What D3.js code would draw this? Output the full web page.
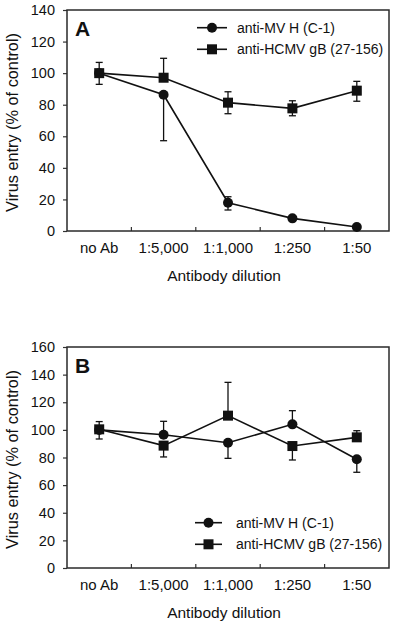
<!DOCTYPE html>
<html>
<head>
<meta charset="utf-8">
<script src="https://cdn.jsdelivr.net/npm/d3@7"></script>
<style>
  html, body { margin: 0; padding: 0; background: #fff; }
  svg { display: block; font-family: "Liberation Sans", Arial, Helvetica, sans-serif; }
</style>
</head>
<body>
<svg id="chart" width="400" height="624"></svg>
<script>
// ---------- data ----------
const categories = ["no Ab", "1:5,000", "1:1,000", "1:250", "1:50"];
const seriesNames = ["anti-MV H (C-1)", "anti-HCMV gB (27-156)"];

// Panel A
const yTicksA = [0, 20, 40, 60, 80, 100, 120, 140];
const aMvH      = [100, 86.3, 17.9, 8.0, 2.5];
const aMvHLo    = [null, 57.2, 13.3, null, null];
const aMvHHi    = [null, null, 21.7, null, null];
const aHcmv     = [100, 97.1, 81.3, 77.7, 88.9];
const aHcmvLo   = [92.9, null, 74.3, 73.0, 82.2];
const aHcmvHi   = [106.8, 109.4, 88.2, 82.5, 94.8];

// Panel B
const yTicksB = [0, 20, 40, 60, 80, 100, 120, 140, 160];
const bMvH      = [100, 96.5, 90.7, 104.0, 78.7];
const bMvHLo    = [null, null, 79.4, null, 69.3];
const bMvHHi    = [null, 106.2, null, 113.9, null];
const bHcmv     = [100.4, 88.6, 110.3, 88.3, 94.6];
const bHcmvLo   = [93.4, 80.4, null, 78.2, null];
const bHcmvHi   = [106.0, null, 134.4, null, 99.4];

const xTitle = "Antibody dilution";
const yTitle = "Virus entry (% of control)";

// ---------- drawing ----------
const svg = d3.select("#chart");
const ink = "#111";

function panel(cfg) {
  const left = 67, right = 389;
  const g = svg.append("g");
  const x = d3.scaleBand().domain(categories).range([left, right]).padding(0);
  const y = d3.scaleLinear().domain([0, d3.max(cfg.yTicks)]).range([cfg.bottom, cfg.top]);

  // y axis
  const ya = g.append("g").attr("transform", `translate(${left},0)`)
    .call(d3.axisLeft(y).tickValues(cfg.yTicks).tickSize(4).tickPadding(8).tickFormat(d3.format("d")));
  ya.select(".domain").remove();
  ya.selectAll("line").attr("stroke", "#333").attr("stroke-width", 1.2);
  ya.selectAll("text").attr("font-size", 14.5).attr("fill", ink).attr("font-family", null);

  // x axis labels
  const xa = g.append("g").attr("transform", `translate(0,${cfg.bottom})`)
    .call(d3.axisBottom(x).tickSize(0).tickPadding(11.5));
  xa.select(".domain").remove();
  xa.selectAll("text").attr("font-size", 15).attr("fill", ink).attr("font-family", null);

  // inner x ticks at band boundaries
  g.selectAll(".xt").data(categories.slice(1)).enter().append("line")
    .attr("x1", d => x(d)).attr("x2", d => x(d))
    .attr("y1", cfg.bottom).attr("y2", cfg.bottom - 4)
    .attr("stroke", "#333").attr("stroke-width", 1.2);

  // frame
  g.append("rect").attr("x", left).attr("y", cfg.top)
    .attr("width", right - left).attr("height", cfg.bottom - cfg.top)
    .attr("fill", "none").attr("stroke", "#2a2a2a").attr("stroke-width", 1.5);

  // titles
  g.append("text").attr("x", 224).attr("y", cfg.bottom + 50)
    .attr("text-anchor", "middle").attr("font-size", 15.5).attr("fill", ink).text(xTitle);
  g.append("text")
    .attr("transform", `translate(17.5,${(cfg.top + cfg.bottom) / 2 + 2}) rotate(-90)`)
    .attr("text-anchor", "middle").attr("font-size", 16.3).attr("fill", ink).text(yTitle);

  // panel letter
  g.append("text").attr("x", 75).attr("y", cfg.top + 25.5)
    .attr("font-size", 21).attr("font-weight", "bold").attr("fill", ink).text(cfg.letter);

  const cx = d => x(d) + x.bandwidth() / 2;
  const line = d3.line().x(d => cx(d.c)).y(d => y(d.v));

  const series = [
    { vals: cfg.mvh, lo: cfg.mvhLo, hi: cfg.mvhHi, shape: "circle" },
    { vals: cfg.hcmv, lo: cfg.hcmvLo, hi: cfg.hcmvHi, shape: "square" }
  ];
  series.forEach(s => {
    s.pts = categories.map((c, i) => ({ c, v: s.vals[i], lo: s.lo[i], hi: s.hi[i] }));
  });

  // lines
  series.forEach(s => {
    g.append("path").attr("d", line(s.pts)).attr("fill", "none")
      .attr("stroke", ink).attr("stroke-width", 1.6);
  });

  // error bars
  const cap = 3.5;
  series.forEach(s => {
    s.pts.forEach(p => {
      [p.lo, p.hi].forEach(e => {
        if (e == null) return;
        g.append("line").attr("x1", cx(p.c)).attr("x2", cx(p.c))
          .attr("y1", y(p.v)).attr("y2", y(e)).attr("stroke", ink).attr("stroke-width", 1.3);
        g.append("line").attr("x1", cx(p.c) - cap).attr("x2", cx(p.c) + cap)
          .attr("y1", y(e)).attr("y2", y(e)).attr("stroke", ink).attr("stroke-width", 1.3);
      });
    });
  });

  // markers
  function marker(sel, shape, px, py) {
    if (shape === "circle") {
      sel.append("circle").attr("cx", px).attr("cy", py).attr("r", 5).attr("fill", ink);
    } else {
      sel.append("rect").attr("x", px - 5).attr("y", py - 5).attr("width", 10).attr("height", 10).attr("fill", ink);
    }
  }
  series.forEach(s => s.pts.forEach(p => marker(g, s.shape, cx(p.c), y(p.v))));

  // legend
  const L = cfg.legend;
  seriesNames.forEach((name, i) => {
    const ly = L.y + i * L.dy;
    g.append("line").attr("x1", L.x1).attr("x2", L.x2).attr("y1", ly).attr("y2", ly)
      .attr("stroke", ink).attr("stroke-width", 1.6);
    marker(g, series[i].shape, L.mx, ly);
    g.append("text").attr("x", L.tx).attr("y", ly + 5).attr("font-size", 14)
      .attr("fill", ink).text(name);
  });
}

panel({
  letter: "A", top: 10, bottom: 231, yTicks: yTicksA,
  mvh: aMvH, mvhLo: aMvHLo, mvhHi: aMvHHi,
  hcmv: aHcmv, hcmvLo: aHcmvLo, hcmvHi: aHcmvHi,
  legend: { x1: 197, x2: 227, mx: 212, tx: 237, y: 27.7, dy: 21.6 }
});
panel({
  letter: "B", top: 347, bottom: 568, yTicks: yTicksB,
  mvh: bMvH, mvhLo: bMvHLo, mvhHi: bMvHHi,
  hcmv: bHcmv, hcmvLo: bHcmvLo, hcmvHi: bHcmvHi,
  legend: { x1: 195, x2: 222, mx: 208.5, tx: 236, y: 522.7, dy: 21.6 }
});
</script>
</body>
</html>
